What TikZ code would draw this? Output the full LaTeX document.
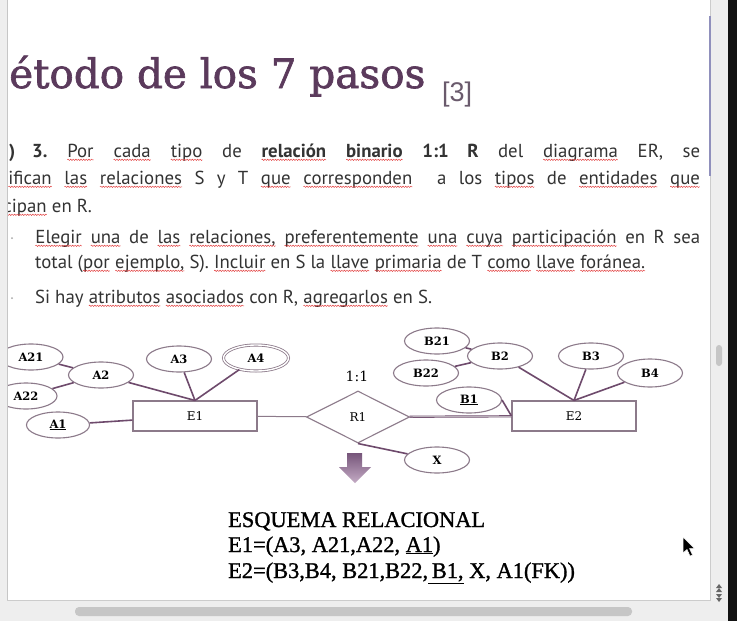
\documentclass[tikz,border=0pt]{standalone}
\usepackage{fontspec}
\usetikzlibrary{shapes.geometric,positioning,decorations.pathmorphing}

\definecolor{slideplum} {HTML}{5B3A5C}
\definecolor{refgray}   {HTML}{6A5A6C}
\definecolor{bodygray}  {HTML}{333333}
\definecolor{erline}    {HTML}{6E4A6C}
\definecolor{erborder}  {HTML}{8C7A8A}
\definecolor{spellred}  {HTML}{E23B3B}
\definecolor{arrowtop}  {HTML}{76557A}
\definecolor{arrowbot}  {HTML}{C4ABC5}
\definecolor{panelgray} {HTML}{EEEEEE}

\newfontfamily\titlefont[FakeBold=1.6]{DejaVu Serif}
\newfontfamily\bodyfont{PT Sans}
\newfontfamily\refsans{Liberation Sans}
\newfontfamily\erfont{DejaVu Serif}
\newfontfamily\schemafont[FakeBold=1.2]{Liberation Serif}
\frenchspacing

% red spell-check squiggle under a word
\newcommand\wv[1]{\tikz[baseline=(w.base)]{%
  \node[inner sep=0pt, outer sep=0pt] (w) {#1};
  \draw[spellred, line width=0.45pt, decorate,
    decoration={snake, amplitude=0.7pt, segment length=2.6pt}]
    ([yshift=-2.8pt]w.base west) -- ([yshift=-2.8pt]w.base east);}}

\begin{document}
\begin{tikzpicture}[x=1pt,y=-1pt,
  every node/.style={inner sep=0pt},
  attr/.style={ellipse, draw=erborder, line width=1.1pt, fill=white,
    minimum width=65pt, minimum height=26pt,
    font=\erfont\bfseries\fontsize{11.5}{12}\selectfont},
  multi/.style={attr, double=white, double distance=1.4pt, line width=0.8pt},
  entity/.style={rectangle, draw=erborder, line width=1.1pt, fill=white,
    minimum width=124pt, minimum height=30pt,
    font=\erfont\fontsize{12}{13}\selectfont},
  rel/.style={diamond, draw=erborder, line width=1.1pt, fill=white,
    minimum width=103pt, minimum height=52pt,
    font=\erfont\fontsize{12}{13}\selectfont},
  link/.style={draw=erline, line width=1.6pt},
  rellink/.style={draw=erborder, line width=1pt},
  bodyline/.style={anchor=base west, text=bodygray,
    font=\bodyfont\fontsize{18.8}{22}\selectfont},
  schema/.style={anchor=base west, text=black,
    font=\schemafont\fontsize{22.4}{24}\selectfont},
]
\useasboundingbox (0,0) rectangle (737,621);
\fill[white] (0,0) rectangle (737,621);

% Title
\node[anchor=base west, text=slideplum, font=\titlefont\fontsize{40.5}{44}\selectfont]
  (title) at (9,88) {étodo de los 7 pasos};
\node[anchor=base west, text=refgray, font=\refsans\fontsize{27}{30}\selectfont]
  (ref) at (442,101) {[3]};

% Text of step 3
\node[bodyline] (cut) at (9,157) {\textbf{)}};
\node[bodyline] (l1) at (32,157) {\makebox[668pt][s]{\textbf{3.} \wv{Por} \wv{cada} \wv{tipo} de
  \textbf{\wv{relación}} \textbf{\wv{binario}} \textbf{1:1 R} del \wv{diagrama} ER, se}};
\node[bodyline] (l2) at (8,184) {\makebox[692pt][s]{\wv{ifican} \wv{las} \wv{relaciones} S y T
  \wv{que} \wv{corresponden}\ \ a los \wv{tipos} de \wv{entidades} \wv{que}}};
\node[bodyline] (l3) at (3,212) {\wv{cipan} en R.};

\fill[gray!70] (12,238) circle (1pt);
\fill[gray!70] (12,298) circle (1pt);
\node[bodyline] (b1a) at (35,243) {\makebox[665pt][s]{\wv{Elegir} \wv{una} de \wv{las}
  \wv{relaciones,} \wv{preferentemente} \wv{una} \wv{cuya} \wv{participación} en R sea}};
\node[bodyline] (b1b) at (35,268) {total (\wv{por} \wv{ejemplo,} S). \wv{Incluir} en S la
  \wv{llave} \wv{primaria} de T \wv{como} \wv{llave} \wv{foránea.}};
\node[bodyline] (b2) at (35,303) {Si hay \wv{atributos} \wv{asociados} con R,
  \wv{agregarlos} en S.};

% ER diagram
\node[entity] (e1) at (195,416) {E1};
\node[entity] (e2) at (574,416) {E2};
\node[rel]    (r1) at (358,417) {R1};
\node[font=\erfont\fontsize{14}{15}\selectfont] (card) at (357,376) {1:1};

\node[attr, minimum width=64pt] (a21) at (31,357) {A21};
\node[attr, minimum width=62pt] (a22) at (26,396) {A22};
\node[attr] (a2) at (101,375) {A2};
\node[attr, minimum width=63pt] (a1) at (58,425) {\underline{A1}};
\node[attr] (a3) at (179,359) {A3};
\node[multi] (a4) at (256,358) {A4};

\node[attr] (b21) at (437,341) {B21};
\node[attr] (b2) at (500,356) {B2};
\node[attr] (b22) at (426,373) {B22};
\node[attr] (b3) at (591,356) {B3};
\node[attr, minimum height=28pt] (b4) at (650,373) {B4};
\node[attr] (b1) at (469,400) {\underline{B1}};
\node[attr] (x) at (437,460) {X};

\draw[link] (a21) -- (a2);
\draw[link] (a22) -- (a2);
\draw[link] (a2) -- (e1.north);
\draw[link] (a3) -- (e1.north);
\draw[link] (a4) -- (e1.north);
\draw[link] (a1) -- (e1);
\draw[rellink] (e1) -- (r1);
\draw[draw=erline, line width=0.6pt, double=erborder!60, double distance=1pt] (r1) -- (e2);
\draw[link] (r1.south) -- (x);

\draw[link] (b21) -- (b2);
\draw[link] (b22) -- (b2);
\draw[link] (b2) -- (e2.north);
\draw[link] (b3) -- (e2.north);
\draw[link] (b4) -- (e2.north);
\draw[link] (b1.east) -- (e2.west);

% down arrow
\shade[top color=arrowtop, bottom color=arrowbot]
  (347,453) -- (362,453) -- (362,467) -- (371,467) -- (355,483)
  -- (339,467) -- (347,467) -- cycle;

% Relational schema
\node[schema] (s0) at (228,527) {ESQUEMA RELACIONAL};
\node[schema] (s1) at (228,552) {E1=(A3, A21,A22, \underline{A1})};
\node[schema] (s2) at (228,578) {E2=(B3,B4, B21,B22,\underline{\,B1,} X, A1(FK))};

% window frame
\fill[panelgray] (0,0) rectangle (7,621);
\draw[gray!45] (7,0) -- (7,600);
\fill[panelgray] (710,0) rectangle (728,621);
\fill[panelgray] (0,600) rectangle (728,621);
\draw[gray!40] (7,600) -- (710,600) -- (710,0);
\draw[blue!25!gray!70, line width=1.5pt] (710,16) -- (710,176);
\fill[gray!45, rounded corners=3pt] (716,345) rectangle (722,366);
\fill[gray!45, rounded corners=4pt] (75,607) rectangle (632,616);
\fill[gray!80!black] (716,588) -- (722,588) -- (719,584) -- cycle;
\fill[gray!80!black] (716,592) -- (722,592) -- (719,588) -- cycle;
\fill[gray!80!black] (716,594) -- (722,594) -- (719,598) -- cycle;
\fill[gray!80!black] (716,598) -- (722,598) -- (719,602) -- cycle;
\fill[black!93] (728,0) rectangle (737,621);

% mouse pointer
\filldraw[fill=black, draw=white, line width=0.5pt]
  (683,537) -- (683,553) -- (687,549.5) -- (690,556) -- (692.5,555)
  -- (689.5,548.5) -- (694.5,548.5) -- cycle;
\end{tikzpicture}
\end{document}
